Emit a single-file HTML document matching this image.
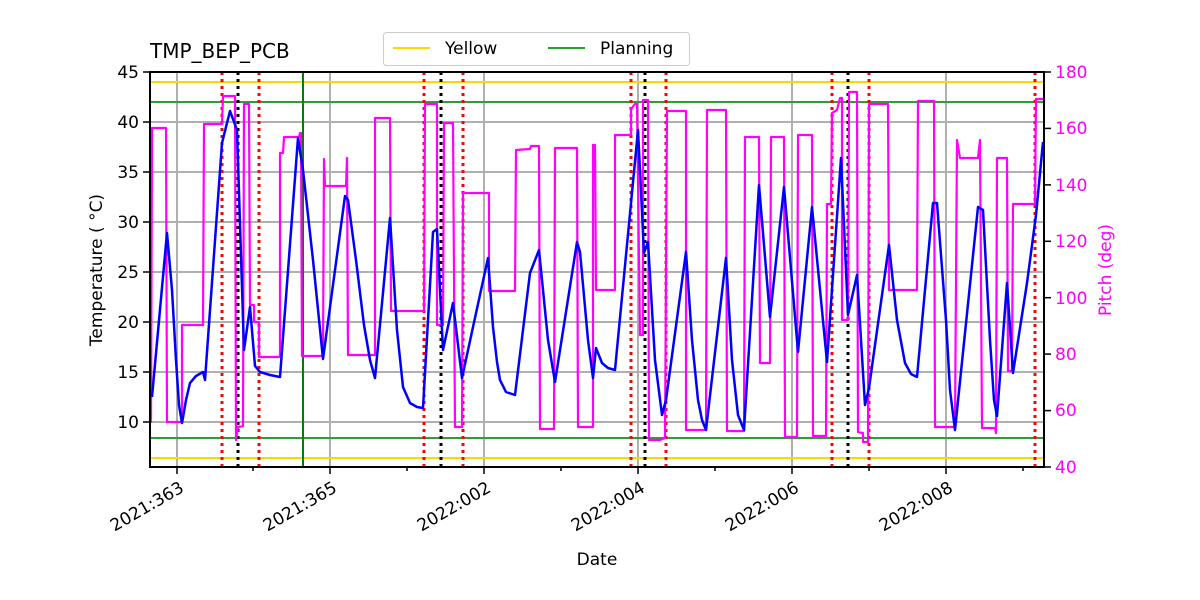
<!DOCTYPE html>
<html><head><style>html,body{margin:0;padding:0;background:#fff;}svg{display:block;font-family:"DejaVu Sans","Liberation Sans",sans-serif;}</style></head>
<body>
<svg width="1200" height="600" viewBox="0 0 1200 600" xmlns="http://www.w3.org/2000/svg">
<rect width="1200" height="600" fill="#fff"/>
<g stroke="#b0b0b0" stroke-width="2">
<line x1="177" y1="72" x2="177" y2="467"/><line x1="330" y1="72" x2="330" y2="467"/><line x1="484" y1="72" x2="484" y2="467"/><line x1="638" y1="72" x2="638" y2="467"/><line x1="792" y1="72" x2="792" y2="467"/><line x1="946" y1="72" x2="946" y2="467"/>
<line x1="150" y1="122" x2="1044" y2="122"/><line x1="150" y1="172" x2="1044" y2="172"/><line x1="150" y1="222" x2="1044" y2="222"/><line x1="150" y1="272" x2="1044" y2="272"/><line x1="150" y1="322" x2="1044" y2="322"/><line x1="150" y1="372" x2="1044" y2="372"/><line x1="150" y1="422" x2="1044" y2="422"/>
</g>
<g stroke-width="2">
<line x1="150" y1="82" x2="1044" y2="82" stroke="#ffd700"/>
<line x1="150" y1="458" x2="1044" y2="458" stroke="#ffd700"/>
<line x1="150" y1="102" x2="1044" y2="102" stroke="#2ca02c"/>
<line x1="150" y1="438" x2="1044" y2="438" stroke="#2ca02c"/>
<line x1="303" y1="72" x2="303" y2="467" stroke="#008000"/>
</g>
<g stroke="#ff0000" stroke-width="3" stroke-dasharray="3,4">
<line x1="222" y1="72" x2="222" y2="467"/><line x1="259" y1="72" x2="259" y2="467"/><line x1="424" y1="72" x2="424" y2="467"/><line x1="463" y1="72" x2="463" y2="467"/><line x1="631" y1="72" x2="631" y2="467"/><line x1="666" y1="72" x2="666" y2="467"/><line x1="832" y1="72" x2="832" y2="467"/><line x1="869" y1="72" x2="869" y2="467"/><line x1="1035" y1="72" x2="1035" y2="467"/>
</g>
<g stroke="#000" stroke-width="3" stroke-dasharray="3,4">
<line x1="238" y1="72" x2="238" y2="467"/><line x1="441" y1="72" x2="441" y2="467"/><line x1="645" y1="72" x2="645" y2="467"/><line x1="848" y1="72" x2="848" y2="467"/>
</g>
<polyline fill="none" stroke="#ff00ff" stroke-width="2.2" stroke-linejoin="round" points="151,423 152,128 166,128 167,422 182,422 182,325 203,325 204,124 222,124 223,96 235,96 236,440 238,427 243,426 244,104 249,104 250,305 254,305 254,322 259,322 259,357 280,357 280,153 283,153 284,137 299,137 300,133 301,133 302,356 323,356 324,159 325,186 346,186 347,158 348,355 375,355 375,118 390,118 391,311 424,311 425,104 437,104 437,325 443,325 444,123 453,123 455,427 462,427 463,193 489,193 489,291 515,291 516,150 530,149 531,146 539,146 540,429 554,429 555,148 577,148 578,427 593,427 593,145 595,145 596,290 615,290 615,135 631,135 631,109 635,104 637,104 640,335 643,335 643,100 648,100 649,440 660,440 665,438 667,111 686,111 686,430 706,430 707,110 726,110 727,431 744,431 745,137 759,137 760,363 770,363 771,137 784,137 785,437 797,437 798,135 812,135 813,436 826,436 827,204 831,204 832,113 837,110 840,98 842,98 842,320 848,320 849,92 857,92 858,432 863,433 863,442 868,442 869,104 888,104 889,290 917,290 918,101 934,101 935,427 955,427 957,140 960,158 978,158 980,140 982,428 995,428 996,433 997,158 1007,158 1008,371 1012,371 1013,204 1035,204 1036,99 1043,99"/>
<polyline fill="none" stroke="#0000ff" stroke-width="2.5" stroke-linejoin="round" points="152,397 167,233 172,290 176,360 179,405 182,423 186,400 190,383 196,376 203,372 205,380 222,143 230,111 237,130 244,350 250,307 255,366 260,372 270,375 280,377 298,138 303,170 313,260 323,359 345,196 348,200 356,260 364,325 370,360 375,378 390,218 397,330 403,387 410,403 417,407 423,408 433,232 437,229 443,350 453,303 462,378 473,327 488,258 493,327 497,362 500,380 506,392 515,395 530,273 539,250 548,340 555,382 577,242 580,252 588,340 593,378 596,348 602,363 608,368 615,370 638,130 644,253 648,242 655,360 662,415 666,400 686,252 692,340 698,400 702,420 706,430 726,258 732,360 738,415 744,430 759,185 770,317 784,187 798,352 812,207 827,362 841,158 848,315 857,275 865,405 869,388 889,245 897,320 905,363 911,374 917,377 933,203 937,203 946,320 950,390 955,430 978,207 983,210 990,340 994,400 997,416 1007,283 1013,373 1027,283 1036,215 1043,142"/>
<rect x="150" y="72" width="894" height="395" fill="none" stroke="#000" stroke-width="2"/>
<g stroke="#000" stroke-width="1.5">
<line x1="177" y1="467" x2="177" y2="474"/><line x1="330" y1="467" x2="330" y2="474"/><line x1="484" y1="467" x2="484" y2="474"/><line x1="638" y1="467" x2="638" y2="474"/><line x1="792" y1="467" x2="792" y2="474"/><line x1="946" y1="467" x2="946" y2="474"/>
<line x1="253" y1="467" x2="253" y2="471"/><line x1="407" y1="467" x2="407" y2="471"/><line x1="561" y1="467" x2="561" y2="471"/><line x1="715" y1="467" x2="715" y2="471"/><line x1="869" y1="467" x2="869" y2="471"/><line x1="1023" y1="467" x2="1023" y2="471"/>
<line x1="143" y1="72" x2="150" y2="72"/><line x1="143" y1="122" x2="150" y2="122"/><line x1="143" y1="172" x2="150" y2="172"/><line x1="143" y1="222" x2="150" y2="222"/><line x1="143" y1="272" x2="150" y2="272"/><line x1="143" y1="322" x2="150" y2="322"/><line x1="143" y1="372" x2="150" y2="372"/><line x1="143" y1="422" x2="150" y2="422"/>
<line x1="1044" y1="72" x2="1051" y2="72"/><line x1="1044" y1="128.4" x2="1051" y2="128.4"/><line x1="1044" y1="184.9" x2="1051" y2="184.9"/><line x1="1044" y1="241.3" x2="1051" y2="241.3"/><line x1="1044" y1="297.7" x2="1051" y2="297.7"/><line x1="1044" y1="354.1" x2="1051" y2="354.1"/><line x1="1044" y1="410.6" x2="1051" y2="410.6"/><line x1="1044" y1="467" x2="1051" y2="467"/>
</g>
<g font-size="17" fill="#000" text-anchor="end">
<text x="139" y="78">45</text><text x="139" y="128">40</text><text x="139" y="178">35</text><text x="139" y="228">30</text><text x="139" y="278">25</text><text x="139" y="328">20</text><text x="139" y="378">15</text><text x="139" y="428">10</text>
</g>
<g font-size="17" fill="#ff00ff">
<text x="1055" y="78">180</text><text x="1055" y="134">160</text><text x="1055" y="191">140</text><text x="1055" y="247">120</text><text x="1055" y="304">100</text><text x="1055" y="360">80</text><text x="1055" y="416">60</text><text x="1055" y="473">40</text>
</g>
<g font-size="17" fill="#000" text-anchor="end">
<text transform="translate(185,491) rotate(-30)">2021:363</text>
<text transform="translate(338,491) rotate(-30)">2021:365</text>
<text transform="translate(492,491) rotate(-30)">2022:002</text>
<text transform="translate(646,491) rotate(-30)">2022:004</text>
<text transform="translate(800,491) rotate(-30)">2022:006</text>
<text transform="translate(954,491) rotate(-30)">2022:008</text>
</g>
<text x="597" y="565" font-size="17" text-anchor="middle">Date</text>
<text transform="translate(102,270) rotate(-90)" font-size="17" text-anchor="middle">Temperature ( °C)</text>
<text transform="translate(1111,270) rotate(-90)" font-size="17" text-anchor="middle" fill="#ff00ff">Pitch (deg)</text>
<text x="150" y="58" font-size="20">TMP_BEP_PCB</text>
<rect x="383.5" y="32.5" width="306" height="33" rx="3" fill="#fff" stroke="#ccc"/>
<line x1="393" y1="48" x2="430" y2="48" stroke="#ffd700" stroke-width="2"/>
<text x="445" y="54" font-size="17">Yellow</text>
<line x1="548" y1="48" x2="585" y2="48" stroke="#2ca02c" stroke-width="2"/>
<text x="600" y="54" font-size="17">Planning</text>
</svg>
</body></html>
